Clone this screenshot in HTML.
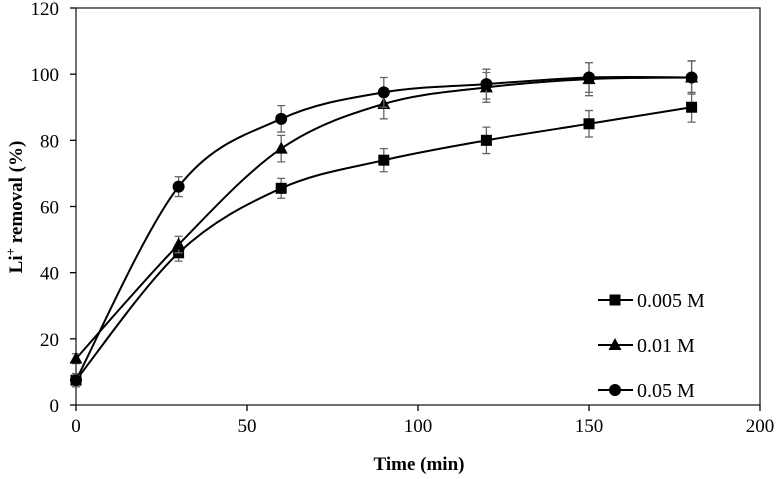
<!DOCTYPE html>
<html><head><meta charset="utf-8"><style>
body{margin:0;background:#fff;}
svg text{font-family:"Liberation Serif",serif;fill:#000;}
</style></head><body>
<svg id="chart" width="776" height="474"></svg>
<script>
const timeMin=[0,30,60,90,120,150,180];
const s005=[7.5,46,65.5,74,80,85,90];
const e005=[2,2.5,3,3.5,4,4,4.5];
const s001=[14,48.5,77.5,91,96,98.5,99];
const e001=[1.5,2.5,4,4.5,4.5,5,5];
const s005M=[7.5,66,86.5,94.5,97,99,99];
const e005M=[1.5,3,4,4.5,4.5,4.5,5];
const xTicks=[0,50,100,150,200];
const yTicks=[0,20,40,60,80,100,120];
const names=["0.005 M","0.01 M","0.05 M"];

const NS="http://www.w3.org/2000/svg";
const svg=document.getElementById('chart');
const X0=76,X1=760,Y0=405,Y1=8;
const xs=v=>X0+(v-0)/200*(X1-X0);
const ys=v=>Y0-(v/120)*(Y0-Y1);
function mk(t,a,p){const e=document.createElementNS(NS,t);for(const k in a)e.setAttribute(k,a[k]);(p||svg).appendChild(e);return e;}

let ax=mk('rect',{x:X0,y:Y1,width:X1-X0,height:Y0-Y1,stroke:'#222','stroke-width':1.3,fill:'none'});


yTicks.forEach(v=>{
  const y=ys(v);
  let t=mk('line',{x1:X0-6,x2:X0,y1:y,y2:y,stroke:'#000','stroke-width':1.3});
  
  
  let l=mk('text',{x:X0-17,y:y+7,'text-anchor':'end','font-size':19});l.textContent=v;
  
  
});
xTicks.forEach(v=>{
  const x=xs(v);
  let t=mk('line',{x1:x,x2:x,y1:Y0,y2:Y0+6,stroke:'#000','stroke-width':1.3});
  
  
  let l=mk('text',{x:x,y:Y0+27,'text-anchor':'middle','font-size':19});l.textContent=v;
  
  
});
let xt=mk('text',{x:419,y:470,'text-anchor':'middle','font-size':19,'font-weight':'bold'});xt.textContent='Time (min)';


let yt=mk('text',{transform:'translate(22,207) rotate(-90)','text-anchor':'middle','font-size':19,'font-weight':'bold'});
yt.innerHTML='Li<tspan dy="-7" font-size="13">+</tspan><tspan dy="7"> removal (%)</tspan>';



function curve(vals){
  const p=timeMin.map((t,i)=>[xs(t),ys(vals[i])]);
  let d=`M${p[0][0]},${p[0][1]}`;
  for(let i=0;i<p.length-1;i++){
    const a=p[Math.max(i-1,0)],b=p[i],c=p[i+1],e=p[Math.min(i+2,p.length-1)];
    const c1=[b[0]+(c[0]-a[0])/6,b[1]+(c[1]-a[1])/6],c2=[c[0]-(e[0]-b[0])/6,c[1]-(e[1]-b[1])/6];
    d+=`C${c1[0]},${c1[1]} ${c2[0]},${c2[1]} ${c[0]},${c[1]}`;
  }
  return d;
}
function marker(kind,x,y,g){
  if(kind==0) return mk('rect',{x:x-5.5,y:y-5.5,width:11,height:11,fill:'#000'},g);
  if(kind==1) return mk('path',{d:`M${x},${y-7}L${x+6.5},${y+5}L${x-6.5},${y+5}Z`,fill:'#000'},g);
  return mk('circle',{cx:x,cy:y,r:6,fill:'#000'},g);
}
const series=[[s005,e005],[s001,e001],[s005M,e005M]];
series.forEach(([vals,errs],k)=>{
  const g=mk('g',{});
  
  
  const ln=mk('path',{d:curve(vals),stroke:'#000','stroke-width':2,fill:'none'},g);
  
  
  timeMin.forEach((t,i)=>{
    const x=xs(t),yh=ys(vals[i]+errs[i]),yl=ys(vals[i]-errs[i]);
    const eb=mk('path',{d:`M${x},${yh}V${yl}M${x-4},${yh}H${x+4}M${x-4},${yl}H${x+4}`,stroke:'#666','stroke-width':1.3,fill:'none'},g);
    
    
    const m=marker(k,x,ys(vals[i]),g);
    
    
  });
  const ly=300+k*45;
  const lg=mk('g',{},svg);
  
  
  mk('line',{x1:598,x2:633,y1:ly,y2:ly,stroke:'#000','stroke-width':2},lg);
  marker(k,615,ly,lg);
  const tx=mk('text',{x:637,y:ly+7,'font-size':20},lg);tx.textContent=names[k];
});
</script>
</body></html>
